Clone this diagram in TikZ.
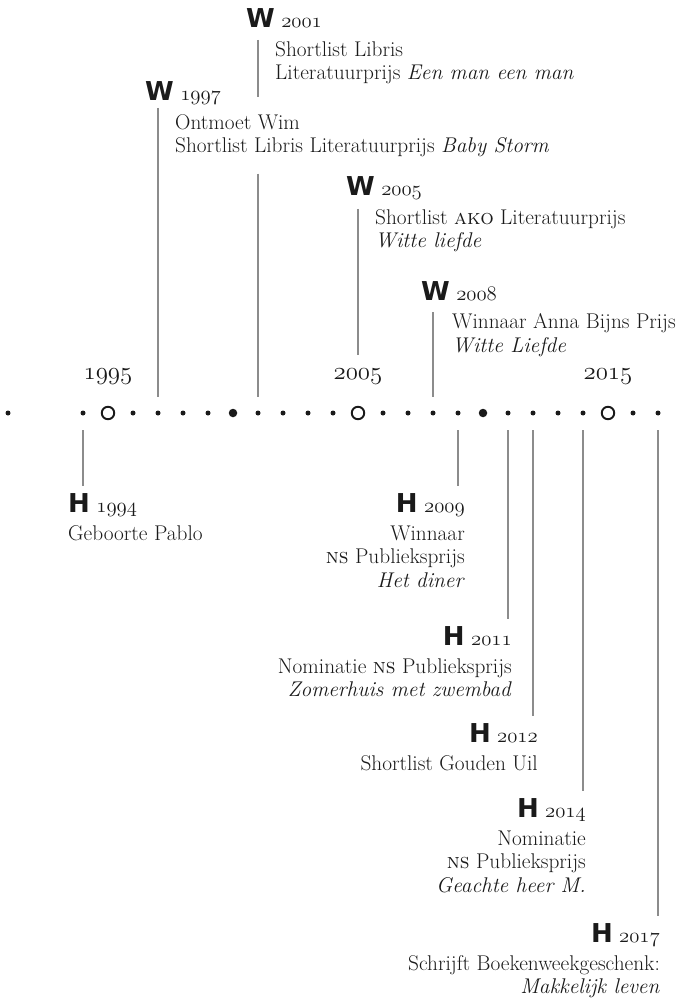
\documentclass[tikz,border=0pt]{standalone}
\usepackage{fontspec}
\newfontfamily\markfont{DejaVu Sans}
\usetikzlibrary{positioning}

\definecolor{inkgray}{HTML}{1A1A1A}
\definecolor{linegray}{HTML}{8C8C8C}

\newcommand{\yr}[1]{{\usefont{OML}{lmm}{m}{it}#1}}
\newcommand{\wmark}{{\markfont\bfseries\fontsize{26}{26}\selectfont W}}
\newcommand{\hmark}{{\markfont\bfseries\fontsize{26}{26}\selectfont H}}

\begin{document}
\begin{tikzpicture}[x=1pt,y=-1pt,
                    every node/.style={inner sep=0pt,text=inkgray},
                    head/.style={font=\fontsize{21.3}{23.5}\selectfont},
                    entry/.style={font=\fontsize{21.3}{23.5}\selectfont,align=left},
                    entryr/.style={entry,align=right},
                    decade/.style={font=\fontsize{33}{33}\selectfont},
                    tick/.style={circle,fill=inkgray,minimum size=5pt},
                    bigtick/.style={circle,fill=inkgray,minimum size=8.5pt},
                    ring/.style={circle,draw=inkgray,line width=1.9pt,minimum size=12.5pt},
                    evline/.style={draw=linegray,line width=1.2pt}]

  \useasboundingbox (0,0) rectangle (681,1008);

  % timeline
  \node[tick] (d1990) at (8,413) {};
  \foreach \y in {1994,...,2017}{
    \pgfmathtruncatemacro{\r}{mod(\y,10)}
    \ifnum\r=0 \def\sty{bigtick}\else\ifnum\r=5 \def\sty{ring}\else\def\sty{tick}\fi\fi
    \node[\sty] (d\y) at ({108+25*(\y-1995)},413) {};
  }
  \node[decade,above=21pt of d1995] (y1995) {\yr{1995}};
  \node[decade,above=21pt of d2005] (y2005) {\yr{2005}};
  \node[decade,above=21pt of d2015] (y2015) {\yr{2015}};

  % W above
  \node[head,anchor=base west] (w01) at (246,28) {\wmark\ \yr{2001}};
  \node[entry,anchor=north west] (w01t) at (275,41.3)
       {Shortlist Libris\\Literatuurprijs \textit{Een man een man}};
  \node[head,anchor=base west] (w97) at (145,101) {\wmark\ \yr{1997}};
  \node[entry,anchor=north west] (w97t) at (175,114.3)
       {Ontmoet Wim\\Shortlist Libris Literatuurprijs \textit{Baby Storm}};
  \node[head,anchor=base west] (w05) at (346,196) {\wmark\ \yr{2005}};
  \node[entry,anchor=north west] (w05t) at (375,209.3)
       {Shortlist \textsc{ako} Literatuurprijs\\\textit{Witte liefde}};
  \node[head,anchor=base west] (w08) at (421,300) {\wmark\ \yr{2008}};
  \node[entry,anchor=north west] (w08t) at (452,313.3)
       {Winnaar Anna Bijns Prijs\\\textit{Witte Liefde}};

  \coordinate (w01top) at (258,40);
  \coordinate (w97top) at (158,108);
  \coordinate (w05top) at (358,209);
  \coordinate (w08top) at (433,312);

  \draw[evline] (w01top) -- ([yshift=17.3pt]w97t.north -| w01top);
  \draw[evline,shorten >=16pt] ([yshift=-16.3pt]w97t.south -| w01top) -- (d2001.center);
  \draw[evline,shorten >=16pt] (w97top) -- (d1997.center);
  \draw[evline,shorten >=14pt] (w05top) -- (y2005.north);
  \draw[evline,shorten >=16pt] (w08top) -- (d2008.center);

  % H below
  \node[head,anchor=base west] (h94) at (68,512) {\hmark\ \yr{1994}};
  \node[entry,anchor=north west] (h94t) at (68,525.3) {Geboorte Pablo};
  \node[head,anchor=base east] (h09) at (465,512) {\hmark\ \yr{2009}};
  \node[entryr,anchor=north east] (h09t) at (465,525.3)
       {Winnaar\\\textsc{ns} Publieksprijs\\\textit{Het diner}};
  \node[head,anchor=base east] (h11) at (512,645) {\hmark\ \yr{2011}};
  \node[entryr,anchor=north east] (h11t) at (512,658.3)
       {Nominatie \textsc{ns} Publieksprijs\\\textit{Zomerhuis met zwembad}};
  \node[head,anchor=base east] (h12) at (538,742) {\hmark\ \yr{2012}};
  \node[entryr,anchor=north east] (h12t) at (538,755.3) {Shortlist Gouden Uil};
  \node[head,anchor=base east] (h14) at (586,817) {\hmark\ \yr{2014}};
  \node[entryr,anchor=north east] (h14t) at (586,830.3)
       {Nominatie\\\textsc{ns} Publieksprijs\\\textit{Geachte heer M.}};
  \node[head,anchor=base east] (h17) at (660,942) {\hmark\ \yr{2017}};
  \node[entryr,anchor=north east] (h17t) at (660,955.3)
       {Schrijft Boekenweekgeschenk:\\\textit{Makkelijk leven}};

  \foreach \y/\h in {1994/h94,2009/h09,2011/h11,2012/h12,2014/h14,2017/h17}
    \draw[evline,shorten <=17pt,shorten >=7pt] (d\y.center) -- (d\y |- \h.north);

\end{tikzpicture}
\end{document}
